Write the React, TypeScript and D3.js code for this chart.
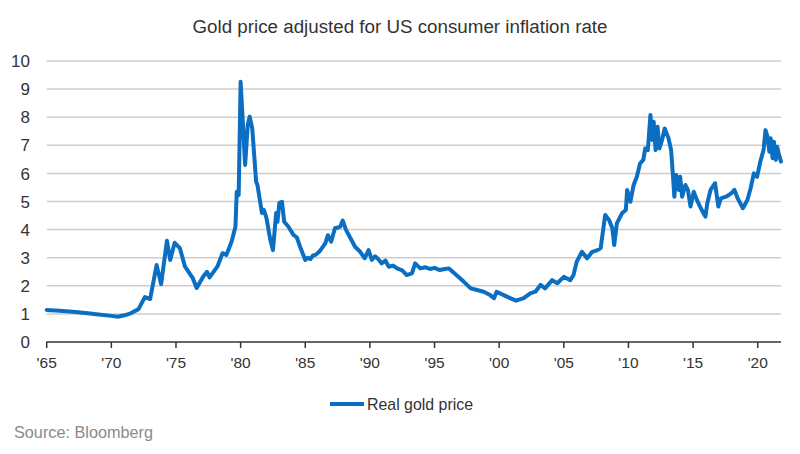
import React from "react";
import * as d3 from "d3";

const years: number[] = [
  1965, 1966, 1967, 1968, 1969, 1970, 1970.5, 1971, 1971.5, 1972.1, 1972.6, 1973.0, 1973.5, 1973.85,
  1974.3, 1974.55, 1974.9, 1975.3, 1975.7, 1976.3, 1976.6, 1977.1, 1977.4, 1977.6, 1978.2, 1978.6,
  1978.9, 1979.3, 1979.6, 1979.7, 1979.85, 1980.0, 1980.35, 1980.55, 1980.7, 1980.9, 1981.2, 1981.3,
  1981.65, 1981.8, 1982.0, 1982.3, 1982.5, 1982.75, 1982.85, 1983.0, 1983.2, 1983.37, 1983.7, 1984.1,
  1984.35, 1984.6, 1985.0, 1985.2, 1985.4, 1985.6, 1985.8, 1986.15, 1986.55, 1986.75, 1987.0, 1987.3, 1987.7, 1987.9,
  1988.15, 1988.5, 1988.85, 1989.25, 1989.6, 1989.9, 1990.15, 1990.4, 1990.65, 1990.9, 1991.2, 1991.45, 1991.8, 1992.1,
  1992.5, 1992.85, 1993.25, 1993.5, 1993.9, 1994.3, 1994.65, 1995.0, 1995.4, 1995.8, 1996.1, 1996.6, 1997.25, 1997.8, 1998.3, 1998.8,
  1999.3, 1999.6, 1999.8, 2000.35, 2000.85, 2001.3, 2001.9, 2002.4, 2002.8, 2003.2, 2003.55, 2004.1,
  2004.5, 2005.0, 2005.5, 2005.75, 2006.0, 2006.4, 2006.8, 2007.2, 2007.6, 2007.85, 2008.2, 2008.5,
  2008.75, 2008.9, 2009.1, 2009.5, 2009.8, 2009.9, 2010.15, 2010.4, 2010.65, 2010.9, 2011.15, 2011.3,
  2011.5, 2011.7, 2011.85, 2011.95, 2012.1, 2012.25, 2012.4, 2012.6, 2012.8, 2013.1, 2013.3, 2013.45,
  2013.55, 2013.7, 2013.9, 2014.0, 2014.15, 2014.4, 2014.6, 2014.8, 2015.05, 2015.3, 2015.6, 2015.95,
  2016.1, 2016.35, 2016.7, 2016.95, 2017.15, 2017.55, 2017.95, 2018.2, 2018.45, 2018.85, 2019.2,
  2019.45, 2019.7, 2019.95, 2020.2, 2020.45, 2020.6, 2020.75, 2020.9, 2021.0, 2021.15, 2021.25,
  2021.4, 2021.5, 2021.65, 2021.8,
];

const realGoldPrice: number[] = [
  1.14, 1.11, 1.08, 1.03, 0.98, 0.93, 0.9, 0.95, 1.02, 1.17, 1.6, 1.53, 2.74, 2.06,
  3.6, 2.92, 3.53, 3.34, 2.68, 2.27, 1.92, 2.32, 2.5, 2.3, 2.68, 3.16,
  3.1, 3.57, 4.1, 5.35, 5.23, 9.26, 6.3, 7.72, 8.02, 7.6, 5.7, 5.59,
  4.59, 4.7, 4.41, 3.63, 3.27, 4.59, 4.28, 4.95, 4.99, 4.28, 4.1, 3.8,
  3.72, 3.39, 2.92, 3.0, 2.95, 3.08, 3.1, 3.25, 3.51, 3.8, 3.57, 4.05, 4.1, 4.32,
  3.99, 3.69, 3.39, 3.21, 2.98, 3.27, 2.92, 3.05, 2.95, 2.8, 2.9, 2.68, 2.72, 2.62,
  2.55, 2.38, 2.44, 2.8, 2.62, 2.66, 2.6, 2.64, 2.56, 2.6, 2.62, 2.42, 2.15, 1.91, 1.85, 1.79,
  1.67, 1.56, 1.79, 1.67, 1.56, 1.47, 1.56, 1.73, 1.79, 2.03, 1.91, 2.2,
  2.09, 2.32, 2.2, 2.38, 2.86, 3.21, 2.98, 3.21, 3.27, 3.34, 4.52, 4.34,
  4.05, 3.45, 4.22, 4.58, 4.7, 5.41, 4.99, 5.59, 5.88, 6.36, 6.48, 6.89,
  6.83, 8.08, 7.19, 7.84, 6.83, 7.66, 6.89, 7.19, 7.6, 7.25, 6.83, 5.88,
  5.17, 5.94, 5.41, 5.88, 5.17, 5.59, 5.41, 4.82, 5.35, 5.05, 4.76, 4.46,
  4.94, 5.41, 5.65, 4.82, 5.11, 5.17, 5.29, 5.41, 5.11, 4.76, 5.05,
  5.47, 6.0, 5.88, 6.42, 6.83, 7.54, 7.31, 6.77, 7.25, 6.54, 7.13,
  6.48, 6.95, 6.65, 6.42,
];

const yTicks: number[] = [0, 1, 2, 3, 4, 5, 6, 7, 8, 9, 10];
const xTicks: number[] = [1965, 1970, 1975, 1980, 1985, 1990, 1995, 2000, 2005, 2010, 2015, 2020];
const xTickLabels: string[] = ["'65", "'70", "'75", "'80", "'85", "'90", "'95", "'00", "'05", "'10", "'15", "'20"];

const title = "Gold price adjusted for US consumer inflation rate";
const seriesName = "Real gold price";
const source = "Source: Bloomberg";

export default function App() {
  const W = 800;
  const H = 454;
  const left = 46.7;
  const right = 781;
  const top = 61;
  const bottom = 342;

  const x = d3.scaleLinear().domain([1965, 2021.8]).range([left, right]);
  const y = d3.scaleLinear().domain([0, 10]).range([bottom, top]);

  const data = years.map((yr, i) => [yr, realGoldPrice[i]] as [number, number]);
  const line = d3
    .line<[number, number]>()
    .x((d) => x(d[0]))
    .y((d) => y(d[1]))
    .curve(d3.curveLinear);

  const font = "'Liberation Sans', Arial, sans-serif";
  const blue = "#0a6fc2";

  return (
    <svg
      width={W}
      height={H}
      style={{ position: "absolute", left: 0, top: 0, background: "#fff" }}
      fontFamily={font}
    >
      <rect x={0} y={0} width={W} height={H} fill="#fff" />
      <text x={400} y={33} textAnchor="middle" fontSize={18} fill="#333" textLength={415} lengthAdjust="spacingAndGlyphs">
        {title}
      </text>
      {yTicks.map((t) => (
        <g key={t}>
          {t > 0 && (
            <line x1={left} x2={right} y1={y(t)} y2={y(t)} stroke="#cdcdcd" strokeWidth={1.5} />
          )}
          <text x={30} y={y(t)} dy="0.36em" textAnchor="end" fontSize={17} fill="#333">
            {t}
          </text>
        </g>
      ))}
      <line x1={left - 0.5} x2={right} y1={bottom} y2={bottom} stroke="#333" strokeWidth={1.5} />
      {xTicks.map((t, i) => (
        <g key={t}>
          <line x1={x(t)} x2={x(t)} y1={bottom} y2={bottom + 6} stroke="#333" strokeWidth={1.5} />
          <text x={x(t)} y={368} textAnchor="middle" fontSize={15.5} fill="#333">
            {xTickLabels[i]}
          </text>
        </g>
      ))}
      <path d={line(data) || ""} fill="none" stroke={blue} strokeWidth={4} strokeLinejoin="round" strokeLinecap="round" />
      <line x1={330} x2={364} y1={404} y2={404} stroke={blue} strokeWidth={4} />
      <text x={367} y={410} fontSize={17} fill="#333" textLength={106} lengthAdjust="spacingAndGlyphs">
        {seriesName}
      </text>
      <text x={14} y={438} fontSize={17} fill="#8a8a8a" textLength={139} lengthAdjust="spacingAndGlyphs">
        {source}
      </text>
    </svg>
  );
}
